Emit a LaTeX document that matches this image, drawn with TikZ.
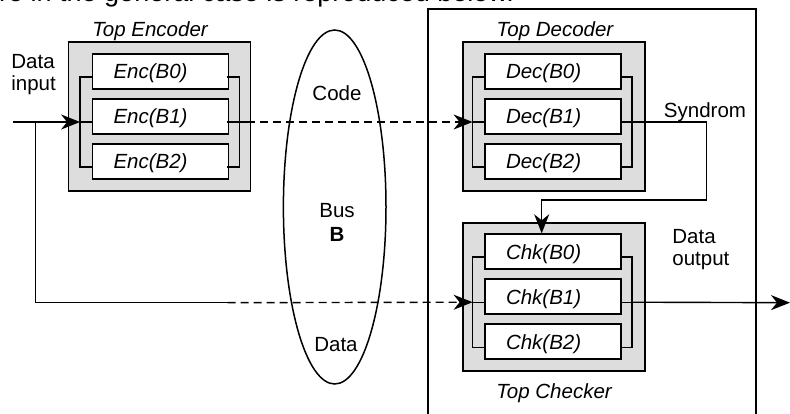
\documentclass[tikz,border=0pt]{standalone}
\usepackage{fontspec}
\setmainfont{Liberation Sans}
\usetikzlibrary{arrows.meta,calc,shapes.geometric}
\definecolor{boxgray}{RGB}{221,221,221}
\tikzset{
  lbl/.style={font=\fontsize{20.5}{22.6}\selectfont, inner sep=0pt},
  ttl/.style={font=\fontsize{20.5}{22.6}\selectfont\itshape, inner sep=0pt, anchor=base},
  graybox/.style={draw, line width=1.5pt, fill=boxgray, minimum width=182pt, minimum height=149pt, inner sep=0pt},
  unitbox/.style={draw, line width=1.8pt, fill=white, minimum height=35pt, inner ysep=0pt,
     inner xsep=21pt, text width=94pt, align=left, text height=16pt, text depth=1pt,
     font=\fontsize{20.5}{22.6}\selectfont\itshape},
  wire/.style={line width=1.4pt},
  tip/.style={-{Stealth[length=19pt,width=15pt,inset=6pt]}},
  dsh/.style={dash pattern=on 8pt off 5pt}
}
\begin{document}
\begin{tikzpicture}[x=1pt,y=-1pt]
\useasboundingbox (0,0) rectangle (790,414);
\clip (0,0) rectangle (790,414);
% top text line (cut off at the top edge, as in the reference)
\node[font=\fontsize{27}{30}\selectfont, inner sep=0pt, anchor=base west] (toptext) at (-1,2) {re in the general case is reproduced below.};
% outer rectangle
\draw[line width=1.4pt] (428,430) |- (756,9) -- (756,430);
% bus ellipse
\node[draw, ellipse, line width=1.5pt, minimum width=102.6pt, minimum height=354pt, inner sep=0pt] (bus) at (334.7,207) {};
\node[lbl, anchor=base] (code) at (337,100.7) {Code};
\node[lbl, anchor=base] (bustxt) at (337,218) {Bus};
\node[lbl, anchor=base, font=\fontsize{20.5}{22.6}\selectfont\bfseries] (bustb) at (337,241.7) {B};
\node[lbl, anchor=base] (busdata) at (336,351.7) {Data};
% encoder
\node[graybox] (enc) at (159.5,116.5) {};
\node[ttl] (enctitle) at (150,36.7) {Top Encoder};
\node[unitbox] (e0) at (160.5,71.5) {Enc(B0)};
\node[unitbox] (e1) at (160.5,116.5) {Enc(B1)};
\node[unitbox] (e2) at (160.5,161.5) {Enc(B2)};
% decoder
\node[graybox] (dec) at (554,116.5) {};
\node[ttl] (dectitle) at (555,36.7) {Top Decoder};
\node[unitbox] (d0) at (553,71.5) {Dec(B0)};
\node[unitbox] (d1) at (553,116.5) {Dec(B1)};
\node[unitbox] (d2) at (553,161.5) {Dec(B2)};
% checker
\node[graybox, minimum height=148pt] (chk) at (554,297) {};
\node[ttl] (chktitle) at (554,398) {Top Checker};
\node[unitbox] (c0) at (553,251.7) {Chk(B0)};
\node[unitbox] (c1) at (553,296.7) {Chk(B1)};
\node[unitbox] (c2) at (553,341.7) {Chk(B2)};
% brackets
\foreach \u in {e,d,c}{
  \draw[wire] ($(\u0.west)+(0,5.5)$) -- ++(-11.5,0) |- ($(\u2.west)+(0,5.5)$);
  \draw[wire] ($(\u1.west)+(0,5.5)$) -- ++(-11.5,0);
  \draw[wire] ($(\u0.east)+(-2,5.5)$) -- ++(12,0) |- ($(\u2.east)+(-2,5.5)$);
  \draw[wire] ($(\u1.east)+(-2,5.5)$) -- ++(12,0);
}
\coordinate (eL) at ($(e1.west)+(-11.5,5.5)$);
\coordinate (eR) at ($(e1.east)+(10,5.5)$);
\coordinate (dL) at ($(d1.west)+(-11.5,5.5)$);
\coordinate (cL) at ($(c1.west)+(-11.5,5.5)$);
\coordinate (cR) at ($(c1.east)+(10,5.5)$);
% data input
\node[lbl, align=left, anchor=base west] (din) at (11.2,90.7) {Data\\input};
\coordinate (dinstart) at (13,122);
\coordinate (split) at (35.7,122);
\coordinate (dturn) at (227.7,302.7);
\draw[wire, tip] (dinstart) -- (eL);
\draw[wire] (split) |- (dturn);
\draw[wire, dsh, tip] (dturn) -- (cL);
% encoder output to decoder
\coordinate (eo) at ($(eR)+(8,0)$);
\draw[wire] (eR) -- (eo);
\draw[wire, dsh, tip] (eo) -- (dL);
% syndrom
\draw[wire, tip] ($(d1.east)+(0,5.5)$) -| (706.7,200) -| ($(c0.north)+(-11.3,0)$);
\node[lbl, anchor=base] (syn) at (705,117.3) {Syndrom};
% data output
\coordinate (dout) at (790,302.7);
\draw[wire, tip] (cR) -- (dout);
\node[lbl, align=left, anchor=base west] (douttxt) at (672.2,265.7) {Data\\output};
\end{tikzpicture}
\end{document}
